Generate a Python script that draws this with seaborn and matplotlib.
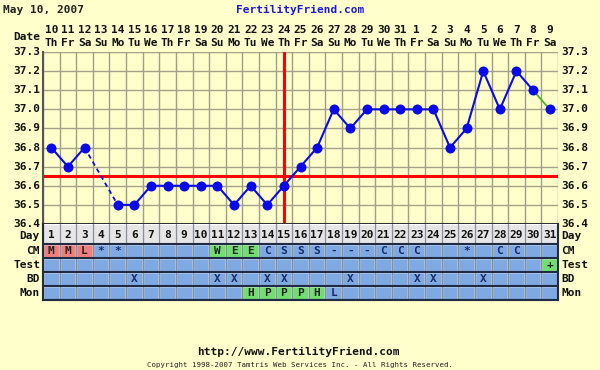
import matplotlib
import numpy as np

matplotlib.use('Agg')
import matplotlib.pyplot as plt
import matplotlib.transforms as mtransforms
import seaborn as sns
import pandas as pd

# dados do gráfico
days = list(range(1, 32))
dates = ['10', '11', '12', '13', '14', '15', '16', '17', '18', '19', '20', '21', '22', '23', '24',
         '25', '26', '27', '28', '29', '30', '31', '1', '2', '3', '4', '5', '6', '7', '8', '9']
weekdays = ['Th', 'Fr', 'Sa', 'Su', 'Mo', 'Tu', 'We', 'Th', 'Fr', 'Sa', 'Su', 'Mo', 'Tu', 'We', 'Th',
            'Fr', 'Sa', 'Su', 'Mo', 'Tu', 'We', 'Th', 'Fr', 'Sa', 'Su', 'Mo', 'Tu', 'We', 'Th', 'Fr', 'Sa']
temps = [36.8, 36.7, 36.8, np.nan, 36.5, 36.5, 36.6, 36.6, 36.6, 36.6, 36.6, 36.5, 36.6, 36.5, 36.6,
         36.7, 36.8, 37.0, 36.9, 37.0, 37.0, 37.0, 37.0, 37.0, 36.8, 36.9, 37.2, 37.0, 37.2, 37.1, 37.0]
coverline = 36.65
ovulation_day = 15
temp_ticks = [36.4, 36.5, 36.6, 36.7, 36.8, 36.9, 37.0, 37.1, 37.2, 37.3]

cm = ['M', 'M', 'L', '*', '*', '', '', '', '', '', 'W', 'E', 'E', 'C', 'S', 'S', 'S', '-', '-', '-',
      'C', 'C', 'C', '', '', '*', '', 'C', 'C', '', '']
cm_hl = ['r', 'r', 'r', '', '', '', '', '', '', '', 'g', 'g', 'g', '', '', '', '', '', '', '',
         '', '', '', '', '', '', '', '', '', '', '']
test = [''] * 30 + ['+']
test_hl = [''] * 30 + ['g']
bd = ['', '', '', '', '', 'X', '', '', '', '', 'X', 'X', '', 'X', 'X', '', '', '', 'X', '',
      '', '', 'X', 'X', '', '', 'X', '', '', '', '']
mon = ['', '', '', '', '', '', '', '', '', '', '', '', 'H', 'P', 'P', 'P', 'H', 'L', '', '',
       '', '', '', '', '', '', '', '', '', '', '']
mon_hl = ['', '', '', '', '', '', '', '', '', '', '', '', 'g', 'g', 'g', 'g', 'g', '', '', '',
          '', '', '', '', '', '', '', '', '', '', '']

df = pd.DataFrame({'day': days, 'temp': temps})

BG = '#FFFFCC'
BLUE = '#0A0AE6'
CELL = '#7FA9E3'
HL = {'r': '#EF7F7F', 'g': '#6FE06F', '': CELL}
FONT = 'DejaVu Sans Mono'

sns.set_style('white')
plt.rcParams['font.family'] = [FONT]

W, H = 600, 370
fig = plt.figure(figsize=(6, 3.7), dpi=100, facecolor=BG)


def fx(px):
    return px / W


def fy(py):
    return 1 - py / H


x0, x1 = 43, 558
ax = fig.add_axes([fx(x0), fy(224), fx(x1) - fx(x0), fy(52) - fy(224)], facecolor=BG)
tab = fig.add_axes([fx(x0), fy(300), fx(x1) - fx(x0), fy(224) - fy(300)], facecolor=CELL)

# grade do gráfico de temperatura
for k in range(len(days) + 1):
    ax.axvline(k + 0.5, color='#9E9D86', lw=1, zorder=1)
for t in temp_ticks:
    ax.axhline(t, color='#A3A28A', lw=1, zorder=1)

ax.axhline(coverline, color='#FF0000', lw=2.2, zorder=2)
ax.axvline(ovulation_day, color='#FF0000', lw=2.2, zorder=2)

# linhas de temperatura
seg1 = df[df['day'] <= 3]
seg2 = df[(df['day'] >= 5) & (df['day'] <= 30)]
seg3 = df[df['day'] >= 30]
sns.lineplot(data=seg1, x='day', y='temp', color=BLUE, lw=1.5, estimator=None, sort=False, ax=ax, zorder=3)
sns.lineplot(data=seg2, x='day', y='temp', color=BLUE, lw=1.5, estimator=None, sort=False, ax=ax, zorder=3)
sns.lineplot(data=seg3, x='day', y='temp', color='#4CB22C', lw=1.3, estimator=None, sort=False, ax=ax, zorder=3)
gap = df[(df['day'] >= 3) & (df['day'] <= 5)].dropna()
ax.plot(gap['day'], gap['temp'], color=BLUE, lw=1.3, ls=(0, (2.5, 2)), zorder=3)
sns.scatterplot(data=df.dropna(), x='day', y='temp', color=BLUE, s=52, edgecolor=BLUE, linewidth=0,
                ax=ax, zorder=4)

ax.set_xlim(0.5, len(days) + 0.5)
ax.set_ylim(temp_ticks[0], temp_ticks[-1])
ax.set_xticks([])
ax.set_yticks([])
ax.set_xlabel('')
ax.set_ylabel('')
for s in ax.spines.values():
    s.set_visible(False)
ax.spines['left'].set_visible(True)
ax.spines['left'].set_color('#555555')
ax.spines['left'].set_linewidth(1.5)
ax.spines['bottom'].set_visible(True)
ax.spines['bottom'].set_color('#333333')
ax.spines['bottom'].set_linewidth(1.5)

# rótulos das temperaturas
lab_l = mtransforms.blended_transform_factory(fig.transFigure, ax.transData)
for t in temp_ticks:
    ax.text(fx(40), t, f'{t:.1f}', transform=lab_l, ha='right', va='center', fontsize=8,
            fontweight='bold', color='#111111')
    ax.text(fx(561), t, f'{t:.1f}', transform=lab_l, ha='left', va='center', fontsize=8,
            fontweight='bold', color='#111111')

# cabeçalho de datas
hdr = mtransforms.blended_transform_factory(ax.transData, fig.transFigure)
for d, dt, wd in zip(days, dates, weekdays):
    ax.text(d, fy(30), dt, transform=hdr, ha='center', va='center', fontsize=8, fontweight='bold', color='#111111')
    ax.text(d, fy(43), wd, transform=hdr, ha='center', va='center', fontsize=8, fontweight='bold', color='#111111')

# tabela inferior
rows = [('Mon', mon, mon_hl), ('BD', bd, [''] * 31), ('Test', test, test_hl), ('CM', cm, cm_hl)]
for i, (name, vals, hls) in enumerate(rows):
    tab.bar(days, 1, bottom=i, width=1, color=[HL[h] for h in hls], zorder=1)
    for d, v in zip(days, vals):
        if v:
            tab.text(d, i + 0.5, v, ha='center', va='center', fontsize=8, fontweight='bold',
                     color='#1A2A66' if hls[d - 1] == '' else '#222222', zorder=3)
tab.bar(days, 1.45, bottom=4, width=1, color='#E6E6E6', zorder=1)
for d in days:
    tab.text(d, 4.62, str(d), ha='center', va='center', fontsize=8, fontweight='bold', color='#111111', zorder=3)
for k in range(len(days) + 1):
    tab.axvline(k + 0.5, color='#8A8F99', lw=1, zorder=2)
for r in [0, 1, 2, 3, 4]:
    tab.axhline(r, color='#1F2A44', lw=1.5, zorder=2)
tab.set_xlim(0.5, len(days) + 0.5)
tab.set_ylim(0, 5.43)
tab.set_xticks([])
tab.set_yticks([])
for s in tab.spines.values():
    s.set_color('#1F2A44')
    s.set_linewidth(1.5)
tab.spines['top'].set_visible(False)

row_labels = [('Day', 4.58), ('CM', 3.5), ('Test', 2.5), ('BD', 1.5), ('Mon', 0.5)]
tab_l = mtransforms.blended_transform_factory(fig.transFigure, tab.transData)
for name, yy in row_labels:
    tab.text(fx(40), yy, name, transform=tab_l, ha='right', va='center', fontsize=8,
             fontweight='bold', color='#111111')
    tab.text(fx(561), yy, name, transform=tab_l, ha='left', va='center', fontsize=8,
             fontweight='bold', color='#111111')

# textos do cabeçalho e rodapé
fig.text(fx(3), fy(10), 'May 10, 2007', ha='left', va='center', fontsize=8, fontweight='bold', color='#222222')
fig.text(fx(300), fy(10), 'FertilityFriend.com', ha='center', va='center', fontsize=8, fontweight='bold',
         color='#1A1AD6')
fig.text(fx(40), fy(37), 'Date', ha='right', va='center', fontsize=8, fontweight='bold', color='#111111')
fig.text(fx(298), fy(352), 'http://www.FertilityFriend.com', ha='center', va='center', fontsize=8,
         fontweight='bold', color='#111111')
fig.text(fx(300), fy(365), 'Copyright 1998-2007 Tamtris Web Services Inc. - All Rights Reserved.',
         ha='center', va='center', fontsize=5.3, color='#222222')

plt.savefig('out.png', dpi=100, facecolor=BG)
